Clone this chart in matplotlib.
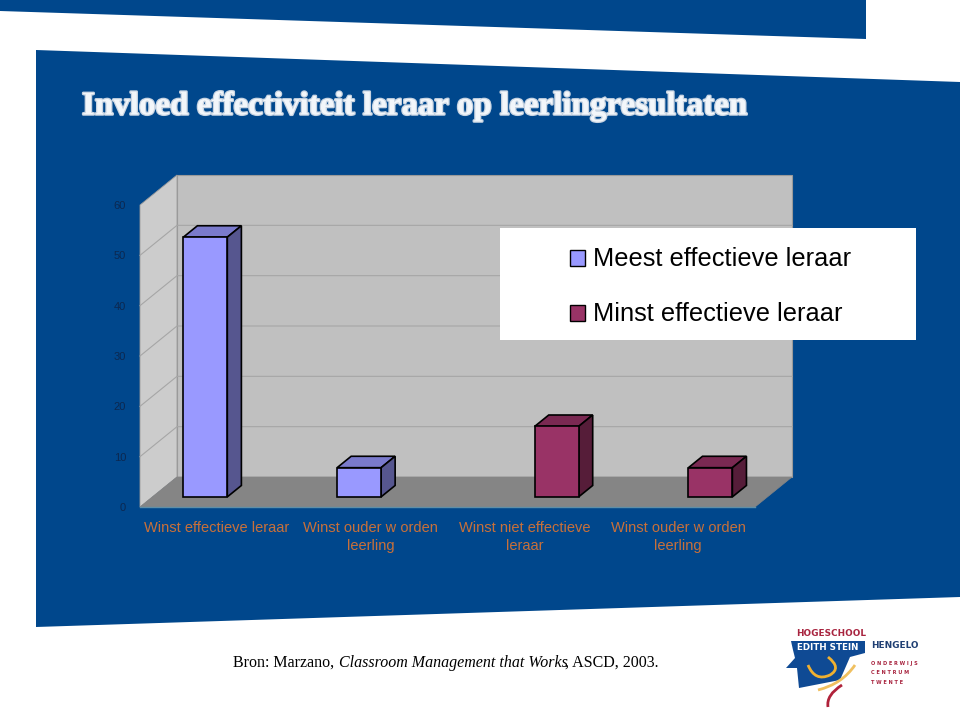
import matplotlib
matplotlib.use("Agg")
import matplotlib.pyplot as plt
import matplotlib.patheffects as pe
from matplotlib.patches import Polygon, Rectangle, PathPatch
from matplotlib.path import Path

categories = ["Winst effectieve leraar", "Winst ouder w orden\nleerling",
              "Winst niet effectieve\nleraar", "Winst ouder w orden\nleerling"]
waarden = [51.6, 5.8, 14, 5.8]
reeks = [0, 0, 1, 1]
reeks_namen = ["Meest effectieve leraar", "Minst effectieve leraar"]
yticks = [0, 10, 20, 30, 40, 50, 60]

BLAUW = "#00478c"
kleuren = [("#9999ff", "#7a7acc", "#56568f"), ("#993366", "#7a2952", "#561d39")]
offset = [-0.14, 0.145]

fig = plt.figure(figsize=(9.6, 7.2), dpi=100)

# achtergrond in pixels
bg = fig.add_axes([0, 0, 1, 1])
bg.set_xlim(0, 960)
bg.set_ylim(720, 0)
bg.axis("off")
bg.add_patch(Polygon([(0, 0), (866, 0), (866, 39), (0, 11)], color=BLAUW, lw=0))
bg.add_patch(Polygon([(36, 50), (960, 82), (960, 597), (36, 627)], color=BLAUW, lw=0))

bg.text(82, 106, "Invloed effectiviteit leraar op leerlingresultaten", color="#f2f6fa",
        family="Liberation Serif", weight="bold", fontsize=23.8, va="center",
        path_effects=[pe.withStroke(linewidth=1.8, foreground="#c8d4e2")])
bg.text(233, 663, "Bron: Marzano, ", family="Liberation Serif", fontsize=11.5, va="center", color="black")
bg.text(339, 663, "Classroom Management that Works", family="Liberation Serif", style="italic",
        fontsize=11.5, va="center", color="black")
bg.text(565, 663, ", ASCD, 2003.", family="Liberation Serif", fontsize=11.5, va="center", color="black")

# logo
bg.text(831, 634, "HOGESCHOOL", color="#a8243f", fontsize=6.4, weight="bold", ha="center", va="center")
bg.add_patch(Polygon([(791, 641), (865, 641), (865, 653), (850, 657), (840, 680), (799, 688),
                     (797, 668), (786, 668), (795, 658), (793, 650)], color="#0f4a94", lw=0))
bg.text(828, 647, "EDITH STEIN", color="white", fontsize=6.3, weight="bold", ha="center", va="center")
bg.text(895, 646, "HENGELO", color="#1f3f73", fontsize=6.4, weight="bold", ha="center", va="center")
for regel, y in zip(["O N D E R W I J S", "C E N T R U M", "T W E N T E"], [664, 673, 682]):
    bg.text(871, y, regel, color="#a8243f", fontsize=3.6, weight="bold", va="center")
bg.add_patch(PathPatch(Path([(828, 657), (842, 668), (830, 675), (815, 682), (808, 665)],
                            [Path.MOVETO, Path.CURVE3, Path.CURVE3, Path.CURVE3, Path.CURVE3]),
                       fc="none", ec="#f0b030", lw=2))
bg.add_patch(PathPatch(Path([(818, 690), (842, 684), (855, 665)], [Path.MOVETO, Path.CURVE3, Path.CURVE3]),
                       fc="none", ec="#f0c060", lw=2))
bg.add_patch(PathPatch(Path([(828, 707), (826, 695), (842, 685)], [Path.MOVETO, Path.CURVE3, Path.CURVE3]),
                       fc="none", ec="#b0223a", lw=2))

# grafiek: x = categorie, y = waarde
ax = fig.add_axes([140 / 960, 1 - 507 / 720, 615 / 960, 302 / 720])
ax.set_xlim(-0.5, 3.5)
ax.set_ylim(0, 60)
ax.patch.set_alpha(0)
for s in ax.spines.values():
    s.set_visible(False)

DX = 37 / 153.75
DY = 30 / 5.033
x0, x1 = -0.5, 3.5

def poly(pts, **kw):
    ax.add_patch(Polygon(pts, clip_on=False, **kw))

poly([(x0 + DX, DY), (x1 + DX, DY), (x1 + DX, 60 + DY), (x0 + DX, 60 + DY)], fc="#c0c0c0", ec="#9a9a9a", lw=0.8)
poly([(x0, 0), (x0 + DX, DY), (x0 + DX, 60 + DY), (x0, 60)], fc="#cccccc", ec="#9a9a9a", lw=0.6)
poly([(x0, 0), (x1, 0), (x1 + DX, DY), (x0 + DX, DY)], fc="#858585", ec="#858585", lw=0.5)
ax.plot([x0, x1], [0, 0], color="#5f8fa8", lw=1, clip_on=False)
for t in yticks[1:-1]:
    ax.plot([x0, x0 + DX, x1 + DX], [t, t + DY, t + DY], color="#a6a6a6", lw=0.8, clip_on=False)

# staven
d_start = 0.27
d_diep = 0.38
for i, (w, r) in enumerate(zip(waarden, reeks)):
    front, top, side = kleuren[r]
    links = i + offset[r] + DX * d_start - 0.143
    rechts = links + 0.286
    onder = DY * d_start * 1.25
    boven = onder + w
    ddx = DX * d_diep
    ddy = DY * d_diep
    poly([(links, onder), (rechts, onder), (rechts, boven), (links, boven)], fc=front, ec="black", lw=1.2, zorder=4)
    poly([(links, boven), (rechts, boven), (rechts + ddx, boven + ddy), (links + ddx, boven + ddy)],
         fc=top, ec="black", lw=1.2, zorder=3)
    poly([(rechts, onder), (rechts + ddx, onder + ddy), (rechts + ddx, boven + ddy), (rechts, boven)],
         fc=side, ec="black", lw=1.2, zorder=3)

ax.set_yticks(yticks)
ax.set_xticks(range(4))
ax.set_xticklabels(categories, color="#c8703a", family="Liberation Sans", fontsize=10.5, linespacing=1.4)
ax.tick_params(axis="x", length=0, pad=10)
ax.tick_params(axis="y", length=0, pad=10, labelsize=8, labelcolor="#0c2850")
for lab in ax.get_yticklabels():
    lab.set_family("Liberation Sans")

# legenda (wit vlak)
bg2 = fig.add_axes([0, 0, 1, 1], zorder=5)
bg2.set_xlim(0, 960)
bg2.set_ylim(720, 0)
bg2.axis("off")
bg2.add_patch(Rectangle((500, 228), 416, 112, fc="white", ec="none"))
for naam, r, y in zip(reeks_namen, [0, 1], [258, 313]):
    bg2.add_patch(Rectangle((570, y - 8), 15, 16, fc=kleuren[r][0], ec="black", lw=1))
    bg2.text(593, y + 1, naam, color="black", family="Liberation Sans", fontsize=18.3, va="center")

fig.savefig("out.png", dpi=100)
